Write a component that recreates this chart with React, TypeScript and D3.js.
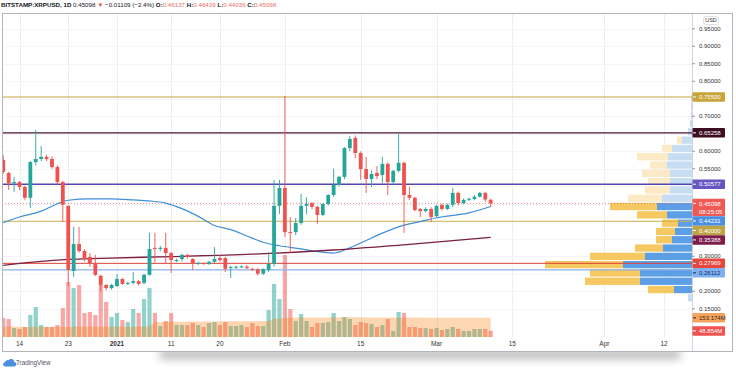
import React, { useEffect, useRef } from "react";
import * as d3 from "d3";

const width = 736;
const height = 369;

// daily candles starting at firstDay
const firstDay = "2020-12-11";
const opens = [
  0.575, 0.538, 0.509, 0.512, 0.498, 0.467, 0.569, 0.578, 0.584, 0.578,
  0.555, 0.512, 0.444, 0.258, 0.335, 0.315, 0.298, 0.278, 0.244, 0.218,
  0.209, 0.215, 0.235, 0.221, 0.224, 0.229, 0.224, 0.247, 0.324, 0.321,
  0.324, 0.309, 0.287, 0.292, 0.304, 0.292, 0.278, 0.281, 0.278, 0.284,
  0.295, 0.295, 0.267, 0.269, 0.27, 0.27, 0.264, 0.263, 0.25, 0.261,
  0.278, 0.444, 0.495, 0.369, 0.369, 0.395, 0.444, 0.452, 0.441, 0.418,
  0.449, 0.475, 0.504, 0.527, 0.609, 0.638, 0.595, 0.549, 0.521, 0.538,
  0.532, 0.564, 0.512, 0.544, 0.567, 0.475, 0.467, 0.435, 0.429, 0.435,
  0.415, 0.447, 0.435, 0.447, 0.481, 0.452, 0.461, 0.464, 0.47, 0.481,
  0.46137,
];
const highs = [
  0.589, 0.541, 0.527, 0.515, 0.502, 0.572, 0.661, 0.615, 0.59, 0.585,
  0.56, 0.515, 0.446, 0.384, 0.384, 0.32, 0.309, 0.304, 0.247, 0.22,
  0.221, 0.249, 0.238, 0.227, 0.255, 0.232, 0.25, 0.367, 0.367, 0.33,
  0.367, 0.312, 0.293, 0.307, 0.307, 0.295, 0.284, 0.283, 0.287, 0.326,
  0.304, 0.298, 0.273, 0.273, 0.274, 0.275, 0.267, 0.266, 0.266, 0.312,
  0.518, 0.518, 0.758, 0.412, 0.41, 0.478, 0.469, 0.455, 0.444, 0.452,
  0.478, 0.55, 0.53, 0.612, 0.644, 0.645, 0.6, 0.584, 0.545, 0.558,
  0.584, 0.568, 0.547, 0.649, 0.57, 0.498, 0.47, 0.438, 0.44, 0.44,
  0.447, 0.45, 0.45, 0.495, 0.485, 0.465, 0.468, 0.475, 0.484, 0.484,
  0.46439,
];
const lows = [
  0.535, 0.489, 0.483, 0.489, 0.46, 0.438, 0.56, 0.572, 0.572, 0.55,
  0.505, 0.398, 0.215, 0.241, 0.31, 0.285, 0.27, 0.243, 0.2, 0.203,
  0.205, 0.212, 0.218, 0.218, 0.22, 0.216, 0.22, 0.244, 0.281, 0.315,
  0.278, 0.252, 0.283, 0.285, 0.293, 0.261, 0.275, 0.275, 0.275, 0.281,
  0.284, 0.255, 0.238, 0.264, 0.266, 0.263, 0.258, 0.245, 0.247, 0.255,
  0.27, 0.42, 0.355, 0.309, 0.36, 0.39, 0.42, 0.435, 0.392, 0.415,
  0.445, 0.47, 0.5, 0.52, 0.6, 0.58, 0.518, 0.481, 0.498, 0.52,
  0.509, 0.475, 0.505, 0.54, 0.367, 0.46, 0.428, 0.412, 0.425, 0.398,
  0.41, 0.43, 0.432, 0.44, 0.445, 0.448, 0.458, 0.46, 0.468, 0.455,
  0.44036,
];
const closes = [
  0.541, 0.509, 0.512, 0.498, 0.467, 0.569, 0.578, 0.584, 0.578, 0.555,
  0.512, 0.447, 0.261, 0.335, 0.315, 0.292, 0.281, 0.247, 0.218, 0.209,
  0.218, 0.235, 0.221, 0.224, 0.229, 0.221, 0.247, 0.321, 0.321, 0.324,
  0.309, 0.289, 0.289, 0.304, 0.298, 0.278, 0.281, 0.278, 0.284, 0.292,
  0.289, 0.264, 0.269, 0.27, 0.271, 0.266, 0.261, 0.25, 0.263, 0.278,
  0.444, 0.495, 0.369, 0.367, 0.395, 0.444, 0.449, 0.441, 0.418, 0.449,
  0.475, 0.504, 0.527, 0.609, 0.635, 0.595, 0.549, 0.521, 0.535, 0.529,
  0.564, 0.512, 0.544, 0.567, 0.475, 0.467, 0.432, 0.429, 0.435, 0.412,
  0.444, 0.435, 0.447, 0.481, 0.452, 0.461, 0.464, 0.47, 0.481, 0.46207,
  0.45098,
];
// volume, millions
const volumes = [
  152, 144, 72, 64, 80, 176, 240, 96, 80, 80,
  96, 232, 440, 392, 416, 192, 200, 176, 416, 280,
  160, 192, 136, 120, 224, 192, 304, 392, 192, 88,
  128, 192, 96, 96, 96, 112, 96, 80, 112, 120,
  96, 120, 88, 88, 96, 80, 112, 88, 88, 216,
  424, 304, 656, 224, 128, 184, 128, 80, 112, 112,
  120, 192, 128, 160, 144, 96, 120, 112, 104, 80,
  96, 144, 48, 200, 192, 80, 80, 72, 72, 64,
  72, 56, 64, 80, 64, 48, 48, 64, 64, 64,
  48.854,
];
const volumeMA = [
  84, 84, 83, 82, 81, 81, 82, 82, 81, 80,
  80, 80, 82, 83, 84, 84, 84, 84, 85, 85,
  84, 84, 83, 83, 83, 84, 84, 85, 118, 120,
  121, 122, 122, 123, 123, 124, 124, 124, 124, 125,
  125, 126, 126, 126, 126, 127, 127, 127, 128, 128,
  146, 148, 152, 154, 155, 156, 156, 157, 157, 157,
  157, 158, 158, 158, 158, 158, 158, 157, 157, 157,
  157, 157, 157, 157, 156, 156, 156, 156, 155, 155,
  155, 155, 155, 154, 154, 154, 154, 153.5, 153.4, 153.3,
  153.174,
];

// moving averages
const fastMADates = [
  "2020-12-11", "2020-12-14", "2020-12-18", "2020-12-21", "2020-12-23", "2020-12-27",
  "2020-12-31", "2021-01-04", "2021-01-07", "2021-01-10", "2021-01-13", "2021-01-16",
  "2021-01-19", "2021-01-22", "2021-01-25", "2021-01-28", "2021-01-31", "2021-02-04",
  "2021-02-07", "2021-02-10", "2021-02-13", "2021-02-16", "2021-02-19", "2021-02-23",
  "2021-02-26", "2021-03-01", "2021-03-07", "2021-03-11",
];
const fastMAValues = [
  0.396, 0.412, 0.429, 0.45, 0.46, 0.464, 0.464, 0.461, 0.458, 0.452, 0.436, 0.414,
  0.388, 0.376, 0.358, 0.34, 0.33, 0.321, 0.313, 0.309, 0.324, 0.345, 0.366, 0.389,
  0.399, 0.41, 0.424, 0.44231,
];
const slowMADates = [
  "2020-12-11", "2020-12-17", "2020-12-23", "2020-12-29", "2021-01-11",
  "2021-01-26", "2021-02-10", "2021-02-24", "2021-03-11",
];
const slowMAValues = [0.274, 0.284, 0.291, 0.294, 0.299, 0.306, 0.318, 0.334, 0.35388];

// horizontal levels
const levelPrices = [0.755, 0.65258, 0.50577, 0.4, 0.27969, 0.26112];

// visible range volume profile, rows from the bottom
const profileLow = 0.1693;
const profileStep = 0.02371;
const profileUp = [4, 18, 52, 52, 69, 47, 29, 20, 17, 14, 25, 35, 30, 22, 22, 22, 25, 24, 20, 10, 4, 2, 1, 1, 1];
const profileDown = [0, 26, 55, 50, 78, 55, 28, 16, 19, 16, 30, 47, 34, 25, 22, 28, 17, 31, 10, 5, 0, 0, 0, 0, 0];
const valueAreaRows = [1, 11];

const priceTicks = d3.range(0.15, 0.951, 0.05);
const timeTickDates = [
  "2020-12-14", "2020-12-23", "2021-01-01", "2021-01-11", "2021-01-20", "2021-02-01",
  "2021-02-15", "2021-03-01", "2021-03-15", "2021-04-01", "2021-04-12",
];
const timeTickLabels = ["14", "23", "2021", "11", "20", "Feb", "15", "Mar", "15", "Apr", "12"];
const countdown = "08:25:05";

const levelStyles = [
  { line: "#c9a43a", w: 1, bg: "#c9a43a", fg: "#fff" },
  { line: "#4a1530", w: 1.3, bg: "#3d0d22", fg: "#fff" },
  { line: "#5346b0", w: 1.3, bg: "#6556c2", fg: "#fff" },
  { line: "#c8b04a", w: 1, bg: "#bfa443", fg: "#fff" },
  { line: "#e0413a", w: 1, bg: "#e8453c", fg: "#fff" },
  { line: "#8bb2ea", w: 1.3, bg: "#7fb1f0", fg: "#0d2b6b" },
];

const font = "'Liberation Sans', Arial, sans-serif";
const up = "#26a69a";
const down = "#ef5350";

const App = () => {
  const svgRef = useRef<SVGSVGElement>(null);

  useEffect(() => {
    document.body.style.margin = "0";
    const svg = d3.select(svgRef.current);
    svg.selectAll("*").remove();
    svg.attr("width", width).attr("height", height).attr("font-family", font);

    const left = 2, top = 13, right = 692, bottom = 337, frameBottom = 351;
    const parseDay = d3.utcParse("%Y-%m-%d");
    const day0 = parseDay(firstDay)!;
    const dates = opens.map((_, i) => d3.utcDay.offset(day0, i));
    const n = dates.length;

    const x = d3
      .scaleUtc()
      .domain([parseDay("2020-12-14")!, parseDay("2021-04-12")!])
      .range([19.5, 664]);
    const y = d3.scaleLinear().domain([0.15, 0.95]).range([308.75, 28.75]);
    const vy = d3.scaleLinear().domain([0, 800]).range([bottom, bottom - 100]);
    const px = d3
      .scaleLinear()
      .domain([0, d3.max(profileUp, (u, i) => u + profileDown[i])!])
      .range([0, 147]);

    const defs = svg.append("defs");
    defs
      .append("clipPath")
      .attr("id", "plot")
      .append("rect")
      .attr("x", left + 0.5)
      .attr("y", top + 0.5)
      .attr("width", right - left)
      .attr("height", bottom - top);
    defs
      .append("filter")
      .attr("id", "blur")
      .attr("x", "-20%")
      .attr("y", "-200%")
      .attr("width", "140%")
      .attr("height", "500%")
      .append("feGaussianBlur")
      .attr("stdDeviation", 5);

    svg.append("rect").attr("width", width).attr("height", height).attr("fill", "#fff");
    // card shadow
    svg
      .append("rect")
      .attr("x", 160)
      .attr("y", 349)
      .attr("width", 520)
      .attr("height", 10)
      .attr("fill", "#000")
      .attr("opacity", 0.28)
      .attr("filter", "url(#blur)");
    svg
      .append("rect")
      .attr("x", left)
      .attr("y", top)
      .attr("width", 733 - left)
      .attr("height", frameBottom - top)
      .attr("fill", "#fff");

    const plot = svg.append("g").attr("clip-path", "url(#plot)");

    // grid
    plot
      .selectAll(".vgrid")
      .data(timeTickDates)
      .join("line")
      .attr("x1", (d) => Math.round(x(parseDay(d)!)) + 0.5)
      .attr("x2", (d) => Math.round(x(parseDay(d)!)) + 0.5)
      .attr("y1", top)
      .attr("y2", bottom)
      .attr("stroke", "#eceef3");
    plot
      .selectAll(".hgrid")
      .data(priceTicks)
      .join("line")
      .attr("x1", left)
      .attr("x2", right)
      .attr("y1", (d) => Math.round(y(d)) + 0.5)
      .attr("y2", (d) => Math.round(y(d)) + 0.5)
      .attr("stroke", "#f4f5f8");

    // volume profile
    const rows = plot.selectAll(".vp").data(profileUp).join("g");
    const inVA = (i: number) => i >= valueAreaRows[0] && i <= valueAreaRows[1];
    rows
      .append("rect")
      .attr("x", (u) => right - px(u))
      .attr("y", (_, i) => y(profileLow + profileStep * (i + 1)) + 0.5)
      .attr("width", (u) => px(u))
      .attr("height", y(0) - y(profileStep) - 1)
      .attr("fill", (_, i) => (inVA(i) ? "#5c9fe6" : "#c7ddf4"));
    rows
      .append("rect")
      .attr("x", (u, i) => right - px(u) - px(profileDown[i]))
      .attr("y", (_, i) => y(profileLow + profileStep * (i + 1)) + 0.5)
      .attr("width", (_, i) => px(profileDown[i]))
      .attr("height", y(0) - y(profileStep) - 1)
      .attr("fill", (_, i) => (inVA(i) ? "#f5c862" : "#fce9c5"));

    // volume
    const isUp = (i: number) => closes[i] >= opens[i];
    plot
      .selectAll(".vol")
      .data(volumes)
      .join("rect")
      .attr("x", (_, i) => x(dates[i]) - 2.1)
      .attr("width", 4.2)
      .attr("y", (v) => vy(v))
      .attr("height", (v) => bottom - vy(v))
      .attr("fill", (_, i) => (isUp(i) ? up : down))
      .attr("opacity", 0.5);
    const volArea = d3
      .area<number>()
      .x((_, i) => x(dates[i]))
      .y0(bottom)
      .y1((v) => vy(v))
      .curve(d3.curveMonotoneX);
    plot
      .append("path")
      .attr("d", volArea(volumeMA))
      .attr("fill", "#f57c00")
      .attr("opacity", 0.3);

    // level lines
    levelPrices.forEach((p, i) => {
      plot
        .append("line")
        .attr("x1", left)
        .attr("x2", right)
        .attr("y1", y(p))
        .attr("y2", y(p))
        .attr("stroke", levelStyles[i].line)
        .attr("stroke-width", levelStyles[i].w);
    });
    plot
      .append("line")
      .attr("x1", left)
      .attr("x2", right)
      .attr("y1", y(closes[n - 1]))
      .attr("y2", y(closes[n - 1]))
      .attr("stroke", down)
      .attr("stroke-dasharray", "1,2")
      .attr("opacity", 0.7);

    // moving averages
    const maLine = d3
      .line<[string, number]>()
      .x((d) => x(parseDay(d[0])!))
      .y((d) => y(d[1]))
      .curve(d3.curveMonotoneX);
    plot
      .append("path")
      .attr("d", maLine(d3.zip(fastMADates, fastMAValues) as [string, number][]))
      .attr("fill", "none")
      .attr("stroke", "#3f8fd8")
      .attr("stroke-width", 1.2);
    plot
      .append("path")
      .attr("d", maLine(d3.zip(slowMADates, slowMAValues) as [string, number][]))
      .attr("fill", "none")
      .attr("stroke", "#7b1f3f")
      .attr("stroke-width", 1.4);

    // candles
    const candles = plot.selectAll(".candle").data(d3.range(n)).join("g");
    candles
      .append("line")
      .attr("x1", (i) => x(dates[i]))
      .attr("x2", (i) => x(dates[i]))
      .attr("y1", (i) => y(highs[i]))
      .attr("y2", (i) => y(lows[i]))
      .attr("stroke", (i) => (isUp(i) ? up : down))
      .attr("stroke-width", 0.9);
    candles
      .append("rect")
      .attr("x", (i) => x(dates[i]) - 1.9)
      .attr("width", 3.8)
      .attr("y", (i) => y(Math.max(opens[i], closes[i])))
      .attr("height", (i) => Math.max(1, Math.abs(y(opens[i]) - y(closes[i]))))
      .attr("fill", (i) => (isUp(i) ? up : down));

    // frame
    svg
      .append("line")
      .attr("x1", right + 0.5)
      .attr("x2", right + 0.5)
      .attr("y1", top)
      .attr("y2", frameBottom)
      .attr("stroke", "#d1d4dc");
    svg
      .append("rect")
      .attr("x", left + 0.5)
      .attr("y", top + 0.5)
      .attr("width", 733 - left - 1)
      .attr("height", frameBottom - top)
      .attr("fill", "none")
      .attr("stroke", "#b2b5be");

    // price axis tags, laid out first so plain tick labels can avoid them
    const fmt = d3.format(".5f");
    type Tag = { yv: number; text: string; sub?: string; bg: string; fg: string; t0?: number; th?: number };
    const tags: Tag[] = levelPrices.map((p, i) => ({
      yv: y(p),
      text: fmt(p),
      bg: levelStyles[i].bg,
      fg: levelStyles[i].fg,
    }));
    tags.push({ yv: y(closes[n - 1]), text: fmt(closes[n - 1]), sub: countdown, bg: "#ef5a55", fg: "#fff" });
    const fastLast = fastMAValues[fastMAValues.length - 1];
    const slowLast = slowMAValues[slowMAValues.length - 1];
    tags.push({ yv: y(fastLast), text: fmt(fastLast), bg: "#4a90e2", fg: "#fff" });
    tags.push({ yv: y(slowLast), text: fmt(slowLast), bg: "#7c1c4a", fg: "#fff" });
    const maLast = volumeMA[n - 1];
    tags.push({ yv: vy(maLast), text: d3.format(".3f")(maLast) + "M", bg: "#f5a35f", fg: "#3b2410" });
    tags.push({ yv: vy(volumes[n - 1]), text: d3.format(".3f")(volumes[n - 1]) + "M", bg: "#ef5350", fg: "#fff" });

    tags.sort((a, b) => a.yv - b.yv);
    const h = 9.5;
    let prevBottom = -Infinity;
    tags.forEach((t) => {
      t.th = t.sub ? h * 2 - 1.5 : h;
      t.t0 = Math.max(t.yv - h / 2, prevBottom);
      prevBottom = t.t0 + t.th;
    });

    const axis = svg.append("g");
    priceTicks.forEach((p) => {
      const py = y(p);
      axis
        .append("line")
        .attr("x1", right)
        .attr("x2", right + 3)
        .attr("y1", py)
        .attr("y2", py)
        .attr("stroke", "#9598a1");
      const hidden = tags.some((t) => py + 2 > t.t0! && py - 2 < t.t0! + t.th!);
      if (hidden) return;
      axis
        .append("text")
        .attr("x", 699)
        .attr("y", py)
        .attr("dy", "0.35em")
        .attr("font-size", 6)
        .attr("fill", "#333")
        .text(fmt(p));
    });

    tags.forEach((t) => {
      const t0 = t.t0!;
      axis
        .append("rect")
        .attr("x", right + 0.5)
        .attr("y", t0)
        .attr("width", 32.5)
        .attr("height", t.th!)
        .attr("rx", 1)
        .attr("fill", t.bg);
      axis
        .append("line")
        .attr("x1", right + 1)
        .attr("x2", right + 4)
        .attr("y1", t0 + h / 2)
        .attr("y2", t0 + h / 2)
        .attr("stroke", t.fg);
      axis
        .append("text")
        .attr("x", 699)
        .attr("y", t0 + h / 2)
        .attr("dy", "0.35em")
        .attr("font-size", 6)
        .attr("fill", t.fg)
        .text(t.text);
      if (t.sub) {
        axis
          .append("text")
          .attr("x", 699)
          .attr("y", t0 + h / 2 + 8)
          .attr("dy", "0.35em")
          .attr("font-size", 6)
          .attr("fill", t.fg)
          .text(t.sub);
      }
    });

    // currency box
    axis
      .append("rect")
      .attr("x", 703.5)
      .attr("y", 16.5)
      .attr("width", 15)
      .attr("height", 8)
      .attr("rx", 2)
      .attr("fill", "#fff")
      .attr("stroke", "#c9ccd4")
      .attr("stroke-width", 0.6);
    axis
      .append("text")
      .attr("x", 711)
      .attr("y", 20.5)
      .attr("dy", "0.35em")
      .attr("text-anchor", "middle")
      .attr("font-size", 5.5)
      .attr("fill", "#333")
      .text("USD");

    // time axis
    svg
      .selectAll(".tlabel")
      .data(timeTickDates)
      .join("text")
      .attr("x", (d) => x(parseDay(d)!))
      .attr("y", 344)
      .attr("dy", "0.35em")
      .attr("text-anchor", "middle")
      .attr("font-size", 6.5)
      .attr("font-weight", (_, i) => (timeTickLabels[i] === "2021" ? "bold" : "normal"))
      .attr("fill", "#333")
      .text((_, i) => timeTickLabels[i]);

    // header
    const head = svg.append("text").attr("x", 1).attr("y", 7).attr("font-size", 6.2).attr("fill", "#131722");
    const change = closes[n - 1] - closes[n - 2];
    const minus = (s: string) => s.replace("-", "−");
    head.append("tspan").attr("font-weight", "bold").text("BITSTAMP:XRPUSD, 1D");
    head.append("tspan").text(" " + fmt(closes[n - 1]) + " ");
    head.append("tspan").attr("fill", "#e0514c").text("▼");
    head
      .append("tspan")
      .text(
        " " + minus(fmt(change)) + " (" + minus(d3.format(".1f")((change / closes[n - 2]) * 100)) + "%) "
      );
    const ohlc: [string, number][] = [
      ["O:", opens[n - 1]],
      ["H:", highs[n - 1]],
      ["L:", lows[n - 1]],
      ["C:", closes[n - 1]],
    ];
    ohlc.forEach(([k, v]) => {
      head.append("tspan").attr("font-weight", "bold").text(k);
      head.append("tspan").attr("fill", "#e8706a").text(fmt(v) + " ");
    });

    // logo
    svg
      .append("path")
      .attr(
        "d",
        "M5,366.5 h9 a2.3,2.3 0 0 0 0.3,-4.6 a3.2,3.2 0 0 0 -5.8,-1.6 a2.2,2.2 0 0 0 -3.2,2 a2.1,2.1 0 0 0 -0.3,4.2 z"
      )
      .attr("fill", "#4a8fe0");
    svg
      .append("text")
      .attr("x", 16)
      .attr("y", 363)
      .attr("dy", "0.35em")
      .attr("font-size", 6.3)
      .attr("fill", "#50535e")
      .text("TradingView");
  }, []);

  return <svg ref={svgRef} style={{ display: "block" }}></svg>;
};

export default App;
